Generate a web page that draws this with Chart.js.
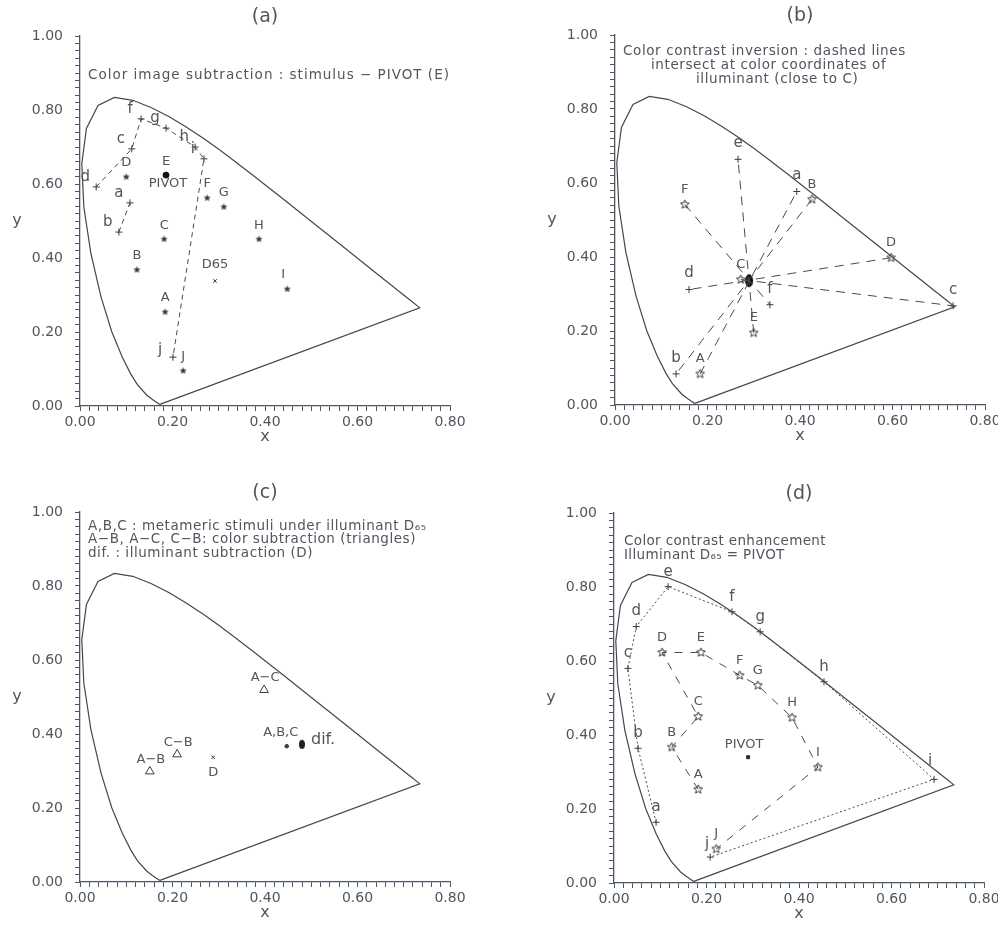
<!DOCTYPE html>
<html><head><meta charset="utf-8">
<script src="https://cdn.jsdelivr.net/npm/chart.js@4/dist/chart.umd.min.js"></script>
<style>
html,body{margin:0;padding:0;background:#fff;overflow:hidden;width:998px;height:925px;position:relative}
canvas{position:absolute}
</style></head><body>
<canvas id="ca" width="499" height="462" style="left:0;top:0;width:499px;height:462px"></canvas>
<canvas id="cb" width="530" height="462" style="left:499px;top:0;width:530px;height:462px"></canvas>
<canvas id="cc" width="499" height="463" style="left:0;top:462px;width:499px;height:463px"></canvas>
<canvas id="cd" width="530" height="463" style="left:499px;top:462px;width:530px;height:463px"></canvas>
<script>
// ---------- data ----------
const LOCUS_X = [0.1741,0.1733,0.1714,0.1644,0.1566,0.1440,0.1241,0.1096,0.0913,0.0687,0.0454,0.0235,0.0082,0.0039,0.0139,0.0389,0.0743,0.1142,0.1547,0.1929,0.2296,0.2658,0.3016,0.3373,0.3731,0.4441,0.5125,0.5752,0.6270,0.6658,0.6915,0.7190,0.7300,0.7347];
const LOCUS_Y = [0.0050,0.0048,0.0051,0.0109,0.0177,0.0297,0.0578,0.0868,0.1327,0.2007,0.2950,0.4127,0.5384,0.6548,0.7502,0.8120,0.8338,0.8262,0.8059,0.7816,0.7543,0.7243,0.6923,0.6589,0.6245,0.5547,0.4866,0.4242,0.3725,0.3340,0.3083,0.2809,0.2700,0.2653];

const X_MAJOR = [0, 0.2, 0.4, 0.6, 0.8];
const Y_MAJOR = [0, 0.2, 0.4, 0.6, 0.8, 1.0];
const X_MAX = 0.8, Y_MAX = 1.0, MINOR_STEP = 0.02;

const TITLES = ['(a)', '(b)', '(c)', '(d)'];
const CAPTION_A = ['Color image subtraction : stimulus \u2212 PIVOT (E)'];
const CAPTION_B = ['Color contrast inversion : dashed lines', 'intersect at color coordinates of', 'illuminant (close to C)'];
const CAPTION_C = ['A,B,C : metameric stimuli under illuminant D\u2086\u2085', 'A\u2212B, A\u2212C, C\u2212B: color subtraction (triangles)', 'dif. : illuminant subtraction (D)'];
const CAPTION_D = ['Color contrast enhancement', 'Illuminant D\u2086\u2085 = PIVOT'];

// panel (a)
const A_STIM_LABELS = ['A','B','C','D','F','G','H','I','J'];
const A_STIM_X = [0.184,0.123,0.182,0.100,0.275,0.311,0.387,0.448,0.223];
const A_STIM_Y = [0.254,0.368,0.451,0.619,0.562,0.538,0.451,0.316,0.095];
const A_PIVOT_X = [0.186], A_PIVOT_Y = [0.624];
const A_D65_X = [0.292], A_D65_Y = [0.338];
const A_RES_LABELS = ['a','b','c','d','f','g','h','i','j'];
const A_RES_X = [0.108,0.084,0.112,0.035,0.132,0.186,0.249,0.268,0.201];
const A_RES_Y = [0.549,0.470,0.695,0.592,0.776,0.751,0.700,0.668,0.132];
const A_PATHS = [['b','a'], ['d','c','f','g','h','i','j']];

// panel (b)
const B_STIM_LABELS = ['A','B','C','D','E','F'];
const B_STIM_X = [0.184,0.426,0.272,0.597,0.300,0.151];
const B_STIM_Y = [0.084,0.556,0.339,0.398,0.195,0.542];
const B_INV_LABELS = ['a','b','c','d','e','f'];
const B_INV_X = [0.393,0.132,0.731,0.160,0.266,0.335];
const B_INV_Y = [0.577,0.084,0.268,0.312,0.664,0.271];
const B_ILLUM_X = [0.290], B_ILLUM_Y = [0.336];

// panel (c)
const C_DIFF_LABELS = ['A\u2212B','C\u2212B','A\u2212C'];
const C_DIFF_X = [0.151,0.210,0.398];
const C_DIFF_Y = [0.299,0.345,0.519];
const C_META_X = [0.447], C_META_Y = [0.367];
const C_DIF_X = [0.480], C_DIF_Y = [0.372];
const C_D_X = [0.288], C_D_Y = [0.337];

// panel (d)
const D_STIM_LABELS = ['A','B','C','D','E','F','G','H','I','J'];
const D_STIM_X = [0.182,0.125,0.182,0.104,0.188,0.272,0.311,0.385,0.441,0.221];
const D_STIM_Y = [0.253,0.367,0.450,0.623,0.623,0.561,0.534,0.447,0.313,0.092];
const D_ENH_LABELS = ['a','b','c','d','e','f','g','h','i','j'];
const D_ENH_X = [0.091,0.052,0.030,0.048,0.117,0.255,0.316,0.454,0.692,0.208];
const D_ENH_Y = [0.164,0.364,0.580,0.693,0.801,0.733,0.679,0.544,0.280,0.070];
const D_PIVOT_X = [0.290], D_PIVOT_Y = [0.340];

// ---------- style ----------
const FONT = '"DejaVu Sans", sans-serif';
const INK = '#3a3a3a';
const TEXT = '#4f565e';
const AXIS = '#4a5866';

function pts(xs, ys) { return xs.map((x, i) => ({x: x, y: ys[i]})); }
function pick(labels, xs, ys, names) { return names.map(n => { const i = labels.indexOf(n); return {x: xs[i], y: ys[i]}; }); }

function starCanvas(r, fill, stroke, lw) {
  const s = Math.ceil(2 * r + lw + 2);
  const c = document.createElement('canvas'); c.width = s; c.height = s;
  const g = c.getContext('2d'); const cx = s / 2, cy = s / 2;
  g.beginPath();
  for (let k = 0; k < 10; k++) {
    const rr = k % 2 ? r * 0.45 : r; const a = -Math.PI / 2 + k * Math.PI / 5;
    const px = cx + rr * Math.cos(a), py = cy + rr * Math.sin(a);
    if (k) g.lineTo(px, py); else g.moveTo(px, py);
  }
  g.closePath();
  if (fill) { g.fillStyle = fill; g.fill(); }
  if (stroke) { g.lineWidth = lw; g.strokeStyle = stroke; g.stroke(); }
  return c;
}
function ellipseCanvas(rx, ry, fill) {
  const w = Math.ceil(2 * rx + 2), h = Math.ceil(2 * ry + 2);
  const c = document.createElement('canvas'); c.width = w; c.height = h;
  const g = c.getContext('2d');
  g.beginPath(); g.ellipse(w / 2, h / 2, rx, ry, 0, 0, Math.PI * 2); g.fillStyle = fill; g.fill();
  return c;
}
const STAR_OPEN = starCanvas(4.6, '#ffffff', '#333', 1);
const STAR_SMALL = starCanvas(3.0, '#333', '#333', 0.6);
const BLOB_B = ellipseCanvas(4, 6.5, '#111');
const BLOB_C = ellipseCanvas(3, 4.5, '#222');

function lineDS(data, dash, width, color) {
  return {data: data, showLine: true, borderColor: color || '#4a4a4a', borderWidth: width || 1,
    borderDash: dash, pointRadius: 0, pointHoverRadius: 0, fill: false, tension: 0};
}
function markDS(data, style, extra) {
  return Object.assign({data: data, showLine: false, pointStyle: style, pointRadius: 3.5,
    borderColor: INK, backgroundColor: INK, borderWidth: 1}, extra || {});
}
function locusDS() {
  return lineDS(pts(LOCUS_X.concat([LOCUS_X[0]]), LOCUS_Y.concat([LOCUS_Y[0]])), [], 1.2, '#474747');
}

function axis(max, majors, isX) {
  return {
    type: 'linear', min: 0, max: max,
    ticks: {
      stepSize: MINOR_STEP, autoSkip: false, maxRotation: 0, minRotation: 0,
      padding: isX ? 3 : 12, color: TEXT, font: {family: FONT, size: 14},
      callback: (v) => { const m = majors.find(t => Math.abs(t - v) < 1e-6); return m === undefined ? '' : m.toFixed(2); }
    },
    grid: {drawOnChartArea: false, drawTicks: true, tickLength: 5, tickColor: AXIS, tickWidth: 1},
    border: {display: true, color: AXIS, width: 1.3},
    afterFit: (s) => { if (isX) s.height = 40; else s.width = 70; }
  };
}

const ANNOT = {};
const annotPlugin = {
  id: 'annot',
  afterDraw(chart) {
    const o = ANNOT[chart.canvas.id]; const ctx = chart.ctx; const ca = chart.chartArea;
    ctx.save();
    ctx.fillStyle = TEXT; ctx.textBaseline = 'middle';
    ctx.font = '19px ' + FONT; ctx.textAlign = 'center';
    ctx.fillText(o.title, (ca.left + ca.right) / 2, ca.top - 19);
    ctx.font = '16px ' + FONT;
    ctx.fillText('x', (ca.left + ca.right) / 2, ca.bottom + 31);
    ctx.fillText('y', ca.left - 63, (ca.top + ca.bottom) / 2);
    ctx.font = '13.5px ' + FONT; ctx.textAlign = 'left';
    ctx.letterSpacing = o.capSpacing + 'px';
    o.caption.forEach((line, i) => {
      const dx = Array.isArray(o.capDx) ? o.capDx[i] : o.capDx;
      ctx.fillText(line, ca.left + dx, ca.top + o.capDy + i * o.capGap);
    });
    ctx.letterSpacing = '0px';
    chart.data.datasets.forEach((ds, di) => {
      if (!ds.ptLabels) return;
      const meta = chart.getDatasetMeta(di);
      meta.data.forEach((el, i) => {
        const t = ds.ptLabels[i]; if (!t) return;
        const off = (ds.lblMap && ds.lblMap[t]) || ds.lblOff || [0, -14];
        ctx.font = ds.lblFont || ('13px ' + FONT);
        ctx.textAlign = ds.lblAlign || 'center';
        ctx.fillStyle = TEXT;
        ctx.fillText(t, el.x + off[0], el.y + off[1]);
      });
    });
    ctx.restore();
  }
};

function makeChart(id, geo, datasets, annot) {
  const c = document.getElementById(id);
  ANNOT[id] = annot;
  return new Chart(c, {
    type: 'scatter',
    data: {datasets: datasets},
    options: {
      responsive: false, animation: false, devicePixelRatio: 1, events: [],
      layout: {padding: {left: geo.left - 70, top: geo.top, right: c.width - geo.left - 370, bottom: c.height - geo.top - 370 - 40}},
      plugins: {legend: {display: false}, tooltip: {enabled: false}},
      scales: {x: axis(X_MAX, X_MAJOR, true), y: axis(Y_MAX, Y_MAJOR, false)}
    },
    plugins: [annotPlugin]
  });
}

const LOWER_FONT = '15px ' + FONT;

// ---------- panel (a) ----------
makeChart('ca', {left: 80, top: 36}, [
  locusDS(),
  ...A_PATHS.map(p => lineDS(pick(A_RES_LABELS, A_RES_X, A_RES_Y, p), [5, 4], 1)),
  markDS(pts(A_STIM_X, A_STIM_Y), STAR_SMALL, {ptLabels: A_STIM_LABELS, lblOff: [0, -14], lblMap: {'I': [-4, -14]}}),
  markDS(pts(A_PIVOT_X, A_PIVOT_Y), 'circle', {pointRadius: 3, backgroundColor: '#111', borderColor: '#111', ptLabels: ['E'], lblOff: [0, -13]}),
  markDS(pts(A_PIVOT_X, A_PIVOT_Y), 'circle', {pointRadius: 0, ptLabels: ['PIVOT'], lblOff: [2, 9]}),
  markDS(pts(A_D65_X, A_D65_Y), 'crossRot', {pointRadius: 2.5, ptLabels: ['D65'], lblOff: [0, -16]}),
  markDS(pts(A_RES_X, A_RES_Y), 'cross', {pointRadius: 3.5, ptLabels: A_RES_LABELS, lblOff: [-11, -10], lblFont: LOWER_FONT, lblMap: {'j': [-13, -7]}})
], {title: TITLES[0], caption: CAPTION_A, capDx: 8, capDy: 39, capGap: 14, capSpacing: 1.0});

// ---------- panel (b) ----------
makeChart('cb', {left: 116, top: 35}, [
  locusDS(),
  ...B_STIM_X.map((x, i) => lineDS([{x: x, y: B_STIM_Y[i]}, {x: B_INV_X[i], y: B_INV_Y[i]}], [9, 7], 1)),
  markDS(pts(B_STIM_X, B_STIM_Y), STAR_OPEN, {ptLabels: B_STIM_LABELS, lblOff: [0, -15]}),
  markDS(pts(B_INV_X, B_INV_Y), 'cross', {pointRadius: 3.5, ptLabels: B_INV_LABELS, lblOff: [0, -16], lblFont: LOWER_FONT}),
  markDS(pts(B_ILLUM_X, B_ILLUM_Y), BLOB_B, {})
], {title: TITLES[1], caption: CAPTION_B, capDx: [8, 36, 81], capDy: 16, capGap: 14, capSpacing: 0.6});

// ---------- panel (c) ----------
makeChart('cc', {left: 80, top: 50}, [
  locusDS(),
  markDS(pts(C_DIFF_X, C_DIFF_Y), 'triangle', {pointRadius: 5, backgroundColor: 'rgba(0,0,0,0)', ptLabels: C_DIFF_LABELS, lblOff: [1, -12]}),
  markDS(pts(C_META_X, C_META_Y), 'circle', {pointRadius: 1.8, ptLabels: ['A,B,C'], lblOff: [-6, -14]}),
  markDS(pts(C_DIF_X, C_DIF_Y), BLOB_C, {ptLabels: ['dif.'], lblOff: [9, -5], lblAlign: 'left', lblFont: '16px ' + FONT}),
  markDS(pts(C_D_X, C_D_Y), 'crossRot', {pointRadius: 2.3, ptLabels: ['D'], lblOff: [0, 15]})
], {title: TITLES[2], caption: CAPTION_C, capDx: 8, capDy: 14, capGap: 13.5, capSpacing: 0.55});

// ---------- panel (d) ----------
makeChart('cd', {left: 115, top: 51}, [
  locusDS(),
  lineDS(pts(D_STIM_X, D_STIM_Y), [8, 8], 1),
  lineDS(pts(D_ENH_X, D_ENH_Y), [2, 2.5], 1),
  markDS(pts(D_STIM_X, D_STIM_Y), STAR_OPEN, {ptLabels: D_STIM_LABELS, lblOff: [0, -15]}),
  markDS(pts(D_ENH_X, D_ENH_Y), 'cross', {pointRadius: 3.5, ptLabels: D_ENH_LABELS, lblOff: [0, -15], lblFont: LOWER_FONT, lblMap: {'i': [-4, -18], 'j': [-3, -13]}}),
  markDS(pts(D_PIVOT_X, D_PIVOT_Y), 'rect', {pointRadius: 2.2, backgroundColor: '#222', ptLabels: ['PIVOT'], lblOff: [-4, -13]})
], {title: TITLES[3], caption: CAPTION_D, capDx: 10, capDy: 28, capGap: 14, capSpacing: 0.35});
</script>
</body></html>
